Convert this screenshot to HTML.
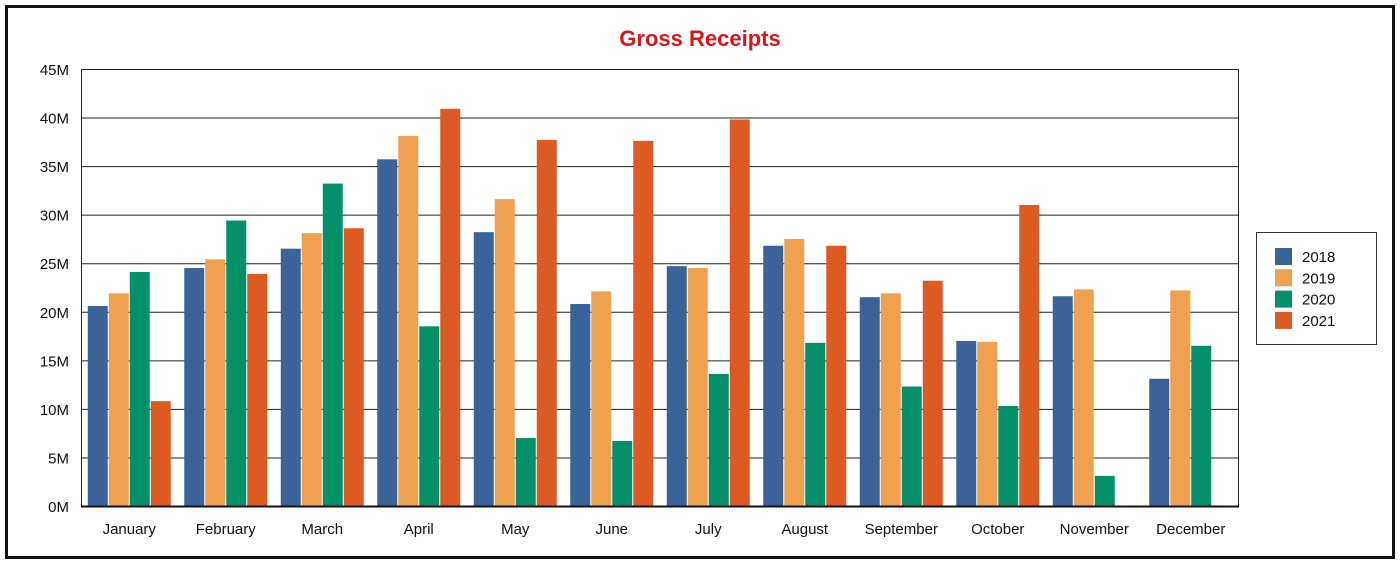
<!DOCTYPE html>
<html><head><meta charset="utf-8"><style>
body{margin:0;background:#fff;}
svg{display:block;font-family:"Liberation Sans",Arial,sans-serif;}
</style></head><body>
<svg id="chart" width="1400" height="566">
<rect x="6.5" y="6.5" width="1387" height="551" fill="#fff" stroke="#111" stroke-width="3"/>
<text x="700" y="46" text-anchor="middle" font-size="22" font-weight="bold" fill="#e01414">Gross Receipts</text>
<g id="grid"></g><g id="bars"></g><g id="axes"></g>
<g>
<rect x="1256.5" y="232.5" width="120" height="112" fill="#fff" stroke="#333"/>
<g id="legend"></g>
</g>
</svg>
<script>
const categories=["January","February","March","April","May","June","July","August","September","October","November","December"];
const years=["2018","2019","2020","2021"];
const colors=["#3a6399","#f0a150","#05906c","#dd5a22"];
const s2018=[20.6,24.5,26.5,35.7,28.2,20.8,24.7,26.8,21.5,17.0,21.6,13.1];
const s2019=[21.9,25.4,28.1,38.1,31.6,22.1,24.5,27.5,21.9,16.9,22.3,22.2];
const s2020=[24.1,29.4,33.2,18.5,7.0,6.7,13.6,16.8,12.3,10.3,3.1,16.5];
const s2021=[10.8,23.9,28.6,40.9,37.7,37.6,39.8,26.8,23.2,31.0,0,0];
const yTicks=[0,5,10,15,20,25,30,35,40,45];
const series=[s2018,s2019,s2020,s2021];
const NS="http://www.w3.org/2000/svg";
const X0=81,X1=1239,Y0=506,Y1=69,MAX=45;
const y=v=>Y0-(v/MAX)*(Y0-Y1);
const gw=(X1-X0)/categories.length;
const bw=20,gap=1;
function mk(t,a,p){const e=document.createElementNS(NS,t);for(const k in a)e.setAttribute(k,a[k]);p.appendChild(e);return e;}
const grid=document.getElementById('grid'),bars=document.getElementById('bars'),axes=document.getElementById('axes'),leg=document.getElementById('legend');
yTicks.forEach(t=>{
 const l=mk('line',{x1:X0,x2:X1,y1:y(t)+0.5,y2:y(t)+0.5,stroke:'#222','stroke-width':1},grid);
 
 
 const tx=mk('text',{x:X0-12,y:y(t)+6,'text-anchor':'end','font-size':15,fill:'#111'},axes);
 tx.textContent=t+'M';
 
 
});
const ax=mk('line',{x1:X0+0.5,x2:X0+0.5,y1:Y1,y2:Y0,stroke:'#222'},axes);


const rx=mk('line',{x1:X1-0.5,x2:X1-0.5,y1:Y1,y2:Y0,stroke:'#222'},axes);


categories.forEach((c,i)=>{
 const gx=X0+i*gw+(gw-(4*bw+3*gap))/2;
 series.forEach((s,j)=>{
  const v=s[i];
  const r=mk('rect',{x:gx+j*(bw+gap),y:y(v),width:bw,height:Y0-y(v),fill:colors[j]},bars);
  
  
 });
 const t=mk('text',{x:X0+i*gw+gw/2,y:534,'text-anchor':'middle','font-size':15,fill:'#111'},axes);
 t.textContent=c;
 
 
});
const bx=mk('line',{x1:X0,x2:X1,y1:Y0+0.5,y2:Y0+0.5,stroke:'#111','stroke-width':2},axes);


years.forEach((yr,j)=>{
 const g=mk('g',{},leg);
 
 
 mk('rect',{x:1275,y:248+j*21.3,width:17,height:17,fill:colors[j]},g);
 const t=mk('text',{x:1302,y:262+j*21.3,'font-size':15,fill:'#111'},g);
 t.textContent=yr;
});
</script>
</body></html>
